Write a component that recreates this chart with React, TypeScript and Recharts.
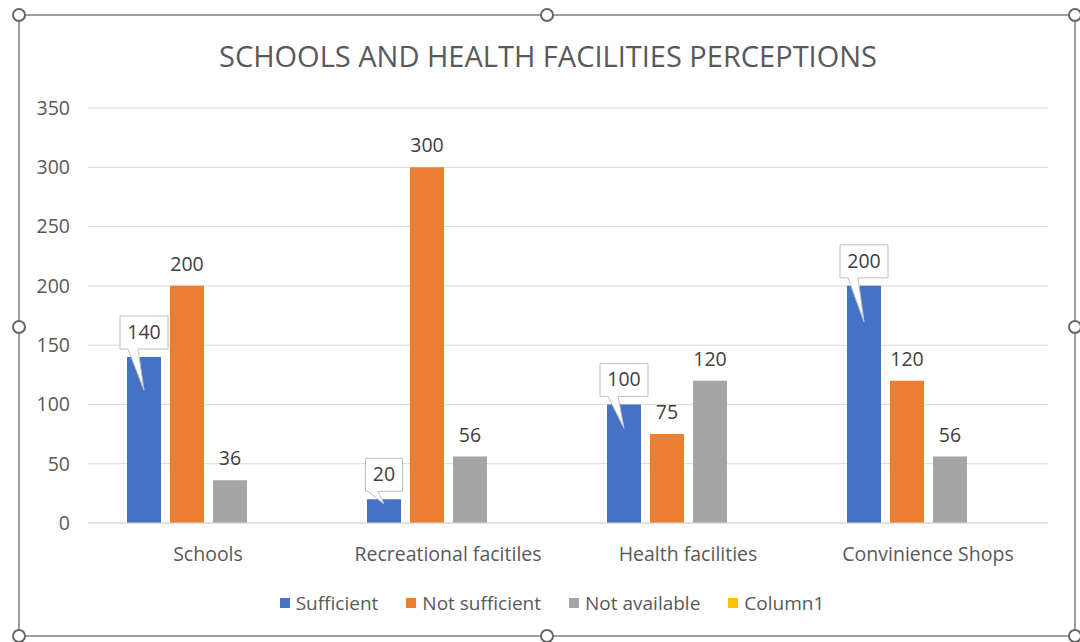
import { Bar, BarChart, CartesianGrid, LabelList, XAxis, YAxis } from "recharts"

const categories = ["Schools", "Recreational facitiles", "Health facilities", "Convinience Shops"]
const sufficient = [140, 20, 100, 200]
const notSufficient = [200, 300, 75, 120]
const notAvailable = [36, 56, 120, 56]
const column1: (number | null)[] = [null, null, null, null]
const yTicks = [0, 50, 100, 150, 200, 250, 300, 350]

const series = [
  { key: "sufficient", name: "Sufficient", color: "#4472C4" },
  { key: "notSufficient", name: "Not sufficient", color: "#ED7D31" },
  { key: "notAvailable", name: "Not available", color: "#A5A5A5" },
  { key: "column1", name: "Column1", color: "#FFC000" },
]

const data = categories.map((name, i) => ({
  name,
  sufficient: sufficient[i],
  notSufficient: notSufficient[i],
  notAvailable: notAvailable[i],
  column1: column1[i],
}))

const FONT = "'Open Sans', sans-serif"
const TEXT = "#595959"
const FS = 19.5

// callout style label used for the "Sufficient" series
function CalloutLabel(props: any) {
  const { x, y, width, height, value } = props
  if (value == null) return null
  const cx = x + width / 2
  const boxW = String(value).length * 11 + 15
  const boxH = 33
  const boxBottom = y - 8
  const boxTop = boxBottom - boxH
  const tipY = y + Math.min(36, height * 0.2)
  const left = cx - boxW / 2
  const baseL = cx - 16
  const baseR = cx - 6
  return (
    <g>
      <path
        d={`M${left},${boxTop} H${left + boxW} V${boxBottom} H${baseR} L${cx},${tipY} L${baseL},${boxBottom} H${left} Z`}
        fill="#ffffff"
        stroke="#bfbfbf"
        strokeWidth={1}
      />
      <text x={cx} y={boxBottom - 10} textAnchor="middle" fontSize={FS} fill="#404040" fontFamily={FONT}>
        {value}
      </text>
    </g>
  )
}

function ChartLegend() {
  return (
    <div
      style={{
        position: "absolute",
        left: 0,
        top: 589,
        width: 1104,
        display: "flex",
        justifyContent: "center",
        gap: 28,
        fontFamily: FONT,
        fontSize: 19,
        color: TEXT,
        lineHeight: "28px",
      }}
    >
      {series.map(s => (
        <div key={s.key} style={{ display: "flex", alignItems: "center", gap: 6 }}>
          <div style={{ width: 10, height: 10, background: s.color }} />
          <span>{s.name}</span>
        </div>
      ))}
    </div>
  )
}

function Frame() {
  const handles = [
    [19, 15], [547, 15], [1075, 15],
    [19, 327], [1075, 327],
    [19, 636], [547, 636], [1075, 636],
  ]
  return (
    <svg width={1080} height={642} style={{ position: "absolute", left: 0, top: 0, pointerEvents: "none" }}>
      <rect x={19} y={15} width={1056} height={621} fill="none" stroke="#7f7f7f" strokeWidth={1.5} />
      {handles.map(([hx, hy], i) => (
        <circle key={i} cx={hx} cy={hy} r={6} fill="#ffffff" stroke="#666666" strokeWidth={2} />
      ))}
    </svg>
  )
}

export default function App() {
  return (
    <div style={{ position: "absolute", left: 0, top: 0, width: 1080, height: 642, background: "#ffffff", overflow: "hidden" }}>
      <div
        style={{
          position: "absolute",
          left: 0,
          top: 36,
          width: 1096,
          textAlign: "center",
          fontFamily: FONT,
          fontSize: 29,
          color: TEXT,
        }}
      >
        SCHOOLS AND HEALTH FACILITIES PERCEPTIONS
      </div>
      <div style={{ position: "absolute", left: 0, top: 0 }}>
        <BarChart
          width={1080}
          height={642}
          data={data}
          margin={{ top: 108, right: 32, left: 0, bottom: 89 }}
          barSize={34}
          barGap={9}
        >
          <CartesianGrid stroke="#d9d9d9" vertical={false} />
          <XAxis
            dataKey="name"
            height={30}
            axisLine={{ stroke: "#d9d9d9" }}
            tickLine={false}
            tickMargin={18}
            interval={0}
            tick={{ fontSize: FS, fill: TEXT, fontFamily: FONT }}
          />
          <YAxis
            width={88}
            domain={[0, 350]}
            ticks={yTicks}
            axisLine={false}
            tickLine={false}
            tickMargin={12}
            tick={{ fontSize: FS, fill: TEXT, fontFamily: FONT }}
          />
          <Bar dataKey="sufficient" name="Sufficient" fill="#4472C4" isAnimationActive={false}>
            <LabelList dataKey="sufficient" content={<CalloutLabel />} />
          </Bar>
          <Bar dataKey="notSufficient" name="Not sufficient" fill="#ED7D31" isAnimationActive={false}>
            <LabelList dataKey="notSufficient" position="top" offset={15} fill="#404040" fontSize={FS} fontFamily={FONT} />
          </Bar>
          <Bar dataKey="notAvailable" name="Not available" fill="#A5A5A5" isAnimationActive={false}>
            <LabelList dataKey="notAvailable" position="top" offset={15} fill="#404040" fontSize={FS} fontFamily={FONT} />
          </Bar>
          <Bar dataKey="column1" name="Column1" fill="#FFC000" isAnimationActive={false} />
        </BarChart>
      </div>
      <ChartLegend />
      <Frame />
    </div>
  )
}
